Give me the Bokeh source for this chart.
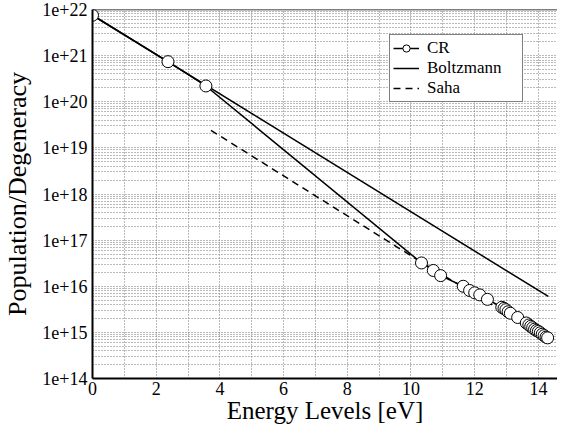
from bokeh.plotting import figure
from bokeh.models import Range1d, FixedTicker, CustomJSTickFormatter, Legend, LegendItem, Span
from bokeh.embed import file_html
from bokeh.resources import INLINE

# ---- data ----
cr_energy = [0.0, 2.37, 3.56, 10.33, 10.70, 10.93, 11.64, 11.84, 12.00, 12.16, 12.40,
             12.85, 12.92, 12.98, 13.05, 13.12, 13.35, 13.62, 13.70, 13.76, 13.82,
             13.88, 13.94, 14.00, 14.06, 14.12, 14.18, 14.24, 14.29]
cr_values = [7.5e21, 7.4e20, 2.2e20, 3.2e16, 2.2e16, 1.7e16, 1.0e16, 8.1e15, 7.2e15, 6.5e15, 5.2e15,
             3.5e15, 3.3e15, 3.1e15, 2.8e15, 2.6e15, 2.1e15, 1.6e15, 1.45e15, 1.35e15, 1.26e15,
             1.17e15, 1.1e15, 1.05e15, 9.8e14, 9.1e14, 8.5e14, 7.9e14, 7.6e14]
boltz_energy = [0.0, 14.31]
boltz_values = [7.5e21, 6.0e15]
saha_energy = [3.72, 10.33, 14.29]
saha_values = [2.4e19, 3.3e16, 7.6e14]

x_major = [0, 2, 4, 6, 8, 10, 12, 14]
x_minor = [1, 3, 5, 7, 9, 11, 13]
y_exponents = [14, 15, 16, 17, 18, 19, 20, 21, 22]
y_major = [10.0 ** e for e in y_exponents]
y_minor = [k * 10.0 ** e for e in y_exponents[:-1] for k in range(2, 10)]

FONT = "Liberation Serif"

W, H = 557, 430
B_LEFT, B_TOP, B_BOTTOM = 88, 9, 52
FRAME_H = H - B_TOP - B_BOTTOM

p = figure(width=W, height=H, output_backend="svg", toolbar_location=None,
           x_range=Range1d(0, 14.6), y_range=Range1d(1e14, 1e22), y_axis_type="log",
           min_border_left=B_LEFT, min_border_top=B_TOP, min_border_bottom=B_BOTTOM,
           min_border_right=0)
p.outline_line_color = None
p.background_fill_color = "white"
p.border_fill_color = "white"

# axes
p.xaxis.ticker = FixedTicker(ticks=x_major, minor_ticks=x_minor)
p.yaxis.ticker = FixedTicker(ticks=y_major, minor_ticks=y_minor)
p.yaxis.formatter = CustomJSTickFormatter(code="return '1e+' + Math.round(Math.log10(tick));")
for ax in (p.xaxis, p.yaxis):
    ax.axis_line_width = 2
    ax.axis_line_color = "black"
    ax.major_tick_line_color = None
    ax.minor_tick_line_color = None
    ax.major_tick_out = 0
    ax.major_tick_in = 0
    ax.minor_tick_out = 0
    ax.minor_tick_in = 0
    ax.major_label_text_font = FONT
    ax.major_label_text_font_size = "18px"
    ax.major_label_text_color = "black"
    ax.axis_label_text_font = FONT
    ax.axis_label_text_font_style = "normal"
    ax.axis_label_text_color = "black"
p.xaxis.axis_label = "Energy Levels [eV]"
p.yaxis.axis_label = "Population/Degeneracy"
p.xaxis.axis_label_text_font_size = "25px"
p.yaxis.axis_label_text_font_size = "26px"
p.xaxis.major_label_standoff = 3
p.xaxis.axis_label_standoff = -1
p.yaxis.major_label_standoff = 5
p.yaxis.axis_label_standoff = 7

# grids
for g in (p.xgrid, p.ygrid):
    g.grid_line_color = "#777777"
    g.grid_line_dash = "1 2"
    g.grid_line_width = 1
    g.minor_grid_line_color = "#777777"
    g.minor_grid_line_dash = "1 2"
    g.minor_grid_line_width = 1

# top border
p.add_layout(Span(location=1e22, dimension="width", line_color="black", line_width=1.5))

# series
boltz = p.line(boltz_energy, boltz_values, line_color="black", line_width=1.5)
saha = p.line(saha_energy, saha_values, line_color="black", line_width=1.5, line_dash="7 5")
cr_line = p.line(cr_energy, cr_values, line_color="black", line_width=1.5)
cr_pts = p.scatter(cr_energy, cr_values, marker="circle", size=12,
                   fill_color="white", line_color="black", line_width=1)

legend = Legend(items=[LegendItem(label="CR", renderers=[cr_line, cr_pts]),
                       LegendItem(label="Boltzmann", renderers=[boltz]),
                       LegendItem(label="Saha", renderers=[saha])],
                location=(297, FRAME_H - 93))
legend.label_text_font = FONT
legend.label_text_font_size = "17px"
legend.label_text_color = "black"
legend.glyph_width = 26
legend.glyph_height = 18
legend.label_height = 18
legend.label_width = 92
legend.spacing = 0
legend.padding = 3
legend.margin = 0
legend.label_standoff = 8
legend.border_line_color = "black"
legend.border_line_width = 1
legend.background_fill_alpha = 1
legend.background_fill_color = "white"
p.add_layout(legend)

open("out.html", "w").write(file_html(p, INLINE))
